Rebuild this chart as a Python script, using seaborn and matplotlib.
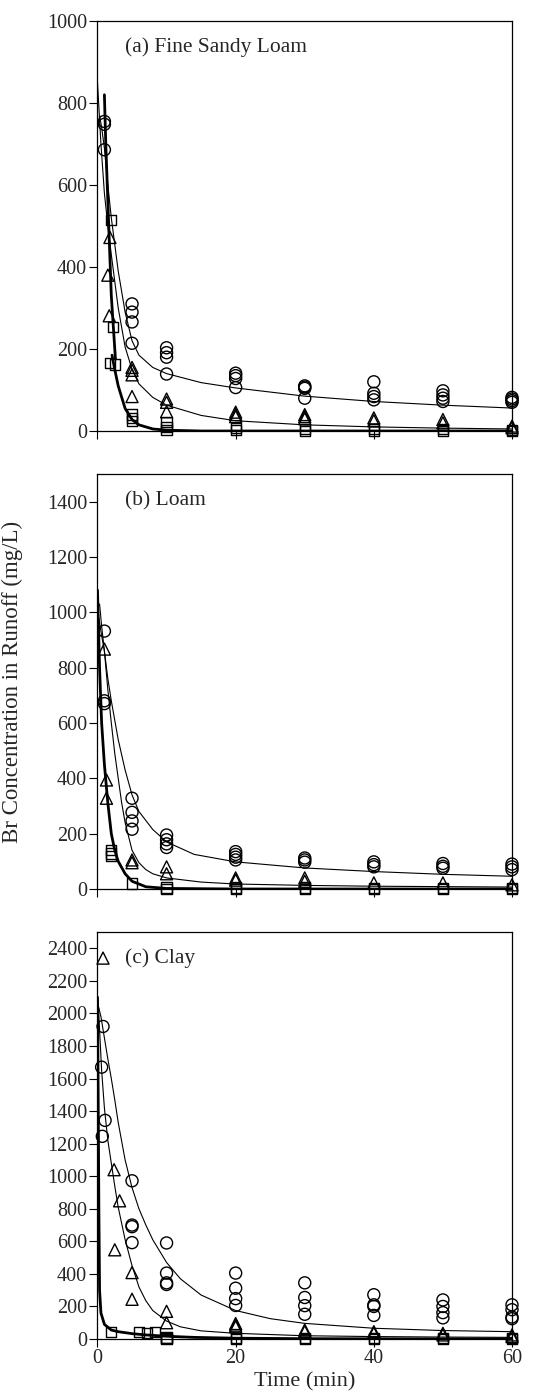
import matplotlib
matplotlib.use("Agg")
import matplotlib.pyplot as plt
import seaborn as sns

# ---- panel (a) Fine Sandy Loam: observed points ----
a_circ_t = [1, 1, 1, 5, 5, 5, 5, 10, 10, 10, 10, 20, 20, 20, 20, 30, 30, 30, 30,
            40, 40, 40, 40, 50, 50, 50, 50, 60, 60, 60, 60]
a_circ_c = [755, 748, 686, 310, 290, 266, 214, 203, 191, 180, 139, 141, 135, 128, 106,
            110, 107, 104, 80, 120, 92, 84, 76, 98, 88, 80, 72, 82, 78, 74, 70]
a_tri_t = [1.8, 1.5, 1.7, 5, 5, 5, 5, 10, 10, 10, 20, 20, 20, 30, 30, 30, 40, 40, 50, 50, 60, 60]
a_tri_c = [472, 380, 281, 155, 148, 137, 84, 78, 70, 47, 46, 40, 35, 40, 35, 30, 32, 25, 28, 20, 12, 8]
a_sq_t = [2, 2.2, 1.8, 2.5, 5, 5, 5, 10, 10, 10, 20, 20, 30, 30, 40, 40, 50, 50, 60, 60]
a_sq_c = [514, 254, 165, 162, 40, 32, 25, 22, 10, 2, 8, 2, 5, 0, 5, 0, 5, 0, 3, 0]

# ---- panel (a): fitted curves ----
a_fit_circ_t = [0.3, 0.6, 1, 1.5, 2, 3, 4, 5, 6, 8, 10, 15, 20, 30, 40, 50, 60]
a_fit_circ_c = [770, 740, 690, 600, 520, 390, 290, 220, 185, 155, 140, 118, 105, 85, 72, 63, 56]
a_fit_tri_t = [0, 0.5, 1, 1.5, 2, 3, 4, 5, 6, 8, 10, 15, 20, 30, 40, 50, 60]
a_fit_tri_c = [850, 700, 580, 500, 430, 300, 205, 150, 115, 82, 63, 38, 25, 15, 10, 7, 5]
a_fit_sq1_t = [1, 1.2, 1.5, 2, 2.6]
a_fit_sq1_c = [820, 700, 560, 330, 175]
a_fit_sq2_t = [2.1, 2.5, 3, 4, 5, 6, 8, 10, 15, 20, 60]
a_fit_sq2_c = [185, 150, 110, 55, 28, 15, 5, 2, 0, 0, 0]

# ---- panel (b) Loam ----
b_circ_t = [1, 1, 1, 5, 5, 5, 5, 10, 10, 10, 10, 20, 20, 20, 20, 30, 30, 30,
            40, 40, 40, 50, 50, 50, 60, 60, 60]
b_circ_c = [932, 680, 670, 328, 277, 246, 216, 195, 178, 163, 150, 135, 125, 115, 105,
            112, 105, 97, 98, 88, 80, 92, 82, 75, 90, 80, 70]
b_tri_t = [1, 1.3, 1.3, 5, 5, 10, 10, 20, 20, 30, 30, 40, 50, 60]
b_tri_c = [867, 394, 328, 105, 95, 80, 55, 40, 32, 40, 28, 22, 22, 15]
b_sq_t = [2, 2, 2, 5, 10, 10, 20, 20, 30, 30, 40, 40, 50, 50, 60, 60]
b_sq_c = [140, 128, 118, 20, 5, 0, 5, 0, 5, 0, 3, 0, 3, 0, 3, 0]

b_fit_circ_t = [0.3, 0.6, 1, 1.5, 2, 3, 4, 5, 6, 8, 10, 14, 20, 30, 40, 50, 60]
b_fit_circ_c = [1030, 950, 860, 760, 680, 540, 430, 340, 280, 215, 170, 125, 98, 76, 63, 53, 46]
b_fit_tri_t = [0.2, 0.5, 1, 1.5, 2, 2.5, 3, 3.5, 4, 5, 6, 7, 8, 10, 15, 20, 30, 40, 60]
b_fit_tri_c = [980, 930, 860, 720, 600, 490, 400, 311, 240, 140, 95, 70, 55, 40, 25, 18, 13, 10, 7]
b_fit_sq_t = [0, 0.3, 0.6, 1, 1.5, 2, 2.5, 3, 4, 5, 7, 10, 20, 60]
b_fit_sq_c = [1080, 800, 600, 450, 310, 200, 140, 100, 55, 28, 8, 2, 0, 0]

# ---- panel (c) Clay ----
c_circ_t = [0.8, 0.6, 1.1, 0.7, 5, 5, 5, 5, 10, 10, 10, 10, 20, 20, 20, 20, 30, 30, 30, 30,
            40, 40, 40, 40, 50, 50, 50, 50, 60, 60, 60, 60]
c_circ_c = [1920, 1670, 1343, 1245, 972, 700, 690, 592, 590, 405, 345, 335, 405, 312, 248, 206,
            345, 255, 205, 152, 272, 210, 200, 145, 240, 200, 162, 130, 210, 180, 135, 125]
c_tri_t = [0.8, 2.4, 3.2, 2.5, 5, 5, 10, 10, 20, 20, 20, 30, 30, 40, 40, 50, 50, 60, 60]
c_tri_c = [2340, 1040, 849, 548, 408, 244, 170, 100, 95, 85, 75, 55, 45, 45, 35, 35, 25, 25, 15]
c_sq_t = [2, 6, 7.2, 8.3, 10, 10, 10, 20, 20, 30, 30, 40, 40, 50, 50, 60, 60]
c_sq_c = [45, 45, 35, 45, 10, 5, 0, 5, 0, 5, 0, 5, 0, 5, 0, 5, 0]

c_fit_circ_t = [0.1, 0.5, 1, 1.5, 2, 2.5, 3, 4, 5, 6, 7, 8, 10, 12, 15, 20, 25, 30, 40, 50, 60]
c_fit_circ_c = [2050, 1980, 1850, 1720, 1600, 1470, 1330, 1100, 930, 800, 700, 610, 470, 370,
                270, 175, 125, 96, 66, 52, 45]
c_fit_tri_t = [0.1, 0.3, 0.6, 1, 1.5, 2, 2.5, 3, 4, 5, 6, 7, 8, 10, 12, 15, 20, 30, 40, 50, 60]
c_fit_tri_c = [2080, 1900, 1650, 1420, 1220, 1080, 940, 810, 610, 450, 320, 235, 175, 110,
               75, 50, 35, 20, 15, 12, 10]
c_fit_sq_t = [0, 0.1, 0.2, 0.3, 0.5, 1, 2, 3, 5, 7, 10, 14, 20, 30, 60]
c_fit_sq_c = [2100, 1500, 800, 300, 160, 90, 55, 45, 33, 25, 17, 10, 5, 2, 0]

panels = [
    dict(title="(a) Fine Sandy Loam", ymax=1000, yticks=range(0, 1001, 200),
         pts=[(a_circ_t, a_circ_c, "o"), (a_tri_t, a_tri_c, "^"), (a_sq_t, a_sq_c, "s")],
         thin=[(a_fit_circ_t, a_fit_circ_c), (a_fit_tri_t, a_fit_tri_c)],
         thick=[(a_fit_sq1_t, a_fit_sq1_c), (a_fit_sq2_t, a_fit_sq2_c)],
         rect=[0.1802, 0.6917, 0.7662, 0.2933]),
    dict(title="(b) Loam", ymax=1500, yticks=range(0, 1401, 200),
         pts=[(b_circ_t, b_circ_c, "o"), (b_tri_t, b_tri_c, "^"), (b_sq_t, b_sq_c, "s")],
         thin=[(b_fit_circ_t, b_fit_circ_c), (b_fit_tri_t, b_fit_tri_c)],
         thick=[(b_fit_sq_t, b_fit_sq_c)],
         rect=[0.1802, 0.3641, 0.7662, 0.2969]),
    dict(title="(c) Clay", ymax=2500, yticks=range(0, 2401, 200),
         pts=[(c_circ_t, c_circ_c, "o"), (c_tri_t, c_tri_c, "^"), (c_sq_t, c_sq_c, "s")],
         thin=[(c_fit_circ_t, c_fit_circ_c), (c_fit_tri_t, c_fit_tri_c)],
         thick=[(c_fit_sq_t, c_fit_sq_c)],
         rect=[0.1802, 0.0422, 0.7662, 0.2911]),
]

sns.set_style("ticks")
plt.rcParams["font.family"] = ["Liberation Serif", "DejaVu Serif"]

fig = plt.figure(figsize=(5.41, 13.98), dpi=100)
axes = []
for i, p in enumerate(panels):
    ax = fig.add_axes(p["rect"])
    axes.append(ax)
    for t, c in p["thin"]:
        sns.lineplot(x=t, y=c, color="black", linewidth=0.8, ax=ax)
    for t, c in p["thick"]:
        sns.lineplot(x=t, y=c, color="black", linewidth=2.0, ax=ax)
    for t, c, m in p["pts"]:
        sizes = {"o": 75, "^": 75, "s": 55}
        sns.scatterplot(x=t, y=c, marker=m, s=sizes[m], facecolor="none",
                        edgecolor="black", linewidth=1.0, clip_on=False, ax=ax, zorder=3)
    ax.set_xlim(0, 60)
    ax.set_ylim(0, p["ymax"])
    ax.set_xticks([0, 20, 40, 60])
    ax.set_yticks(list(p["yticks"]))
    ax.tick_params(axis="both", direction="out", length=5.5, width=0.8,
                   labelsize=14.5, color="black", pad=2)
    for s in ax.spines.values():
        s.set_linewidth(0.9)
        s.set_color("black")
    ax.text(0.066, 0.935, p["title"], transform=ax.transAxes, fontsize=15.5,
            ha="left", va="center")
    if i < 2:
        ax.set_xticklabels([])
    ax.set_xlabel("")
    ax.set_ylabel("")

axes[1].set_ylabel("Br Concentration in Runoff (mg/L)", fontsize=16.5)
axes[1].yaxis.set_label_coords(-0.18, 0.5)
axes[2].set_xlabel("Time (min)", fontsize=16, va="center")
axes[2].xaxis.set_label_coords(0.5, -0.105)

fig.savefig("out.png", dpi=100)
